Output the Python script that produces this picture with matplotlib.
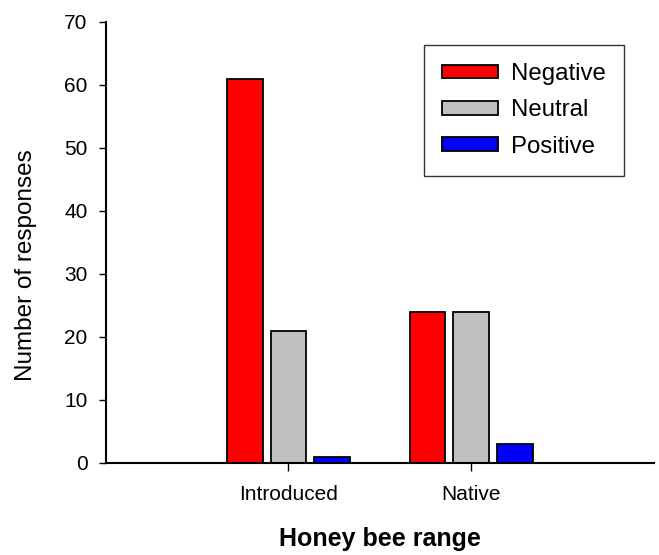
import matplotlib
matplotlib.use('Agg')
import matplotlib.pyplot as plt
import numpy as np

plt.rcParams['font.family'] = ['Liberation Sans', 'DejaVu Sans']

# responses by honey bee range
ranges = ["Introduced", "Native"]
negative = [61, 24]
neutral = [21, 24]
positive = [1, 3]

series = [("Negative", negative, "#FF0000"),
          ("Neutral", neutral, "#C0C0C0"),
          ("Positive", positive, "#0000FF")]

fig = plt.figure(figsize=(6.59, 5.55), dpi=100)
ax = fig.add_axes([0.1604, 0.1658, 0.8320, 0.7946])

x = np.arange(1, len(ranges) + 1)
width = 0.195
step = 0.239
for i, (name, vals, col) in enumerate(series):
    ax.bar(x + (i - 1) * step, vals, width, color=col, edgecolor='black',
           linewidth=1.3, label=name, zorder=2)

ax.set_xlim(0, 3)
ax.set_ylim(0, 70)
ax.set_xticks(x)
ax.set_xticklabels(ranges)
ax.set_yticks(np.arange(0, 71, 10))

for s in ['top', 'right']:
    ax.spines[s].set_visible(False)
for s in ['left', 'bottom']:
    ax.spines[s].set_linewidth(1.5)
    ax.spines[s].set_color('black')

ax.tick_params(axis='y', direction='out', length=5, width=1, labelsize=15, pad=8)
ax.tick_params(axis='x', direction='out', length=6, width=1, labelsize=15, pad=10)

ax.set_ylabel("Number of responses", fontsize=17.5)
ax.yaxis.set_label_coords(-0.125, 0.448)
ax.set_xlabel("Honey bee range", fontsize=18, fontweight='bold', va='center')
ax.xaxis.set_label_coords(0.5, -0.172)

leg = ax.legend(loc='upper left', bbox_to_anchor=(0.581, 0.948), fontsize=17.3,
                frameon=True, fancybox=False, shadow=False, edgecolor='black',
                borderpad=0.75, handlelength=2.33, handleheight=0.5,
                handletextpad=0.52, labelspacing=0.6, borderaxespad=0)
leg.get_frame().set_linewidth(1.0)

fig.savefig('out.png', dpi=100)
